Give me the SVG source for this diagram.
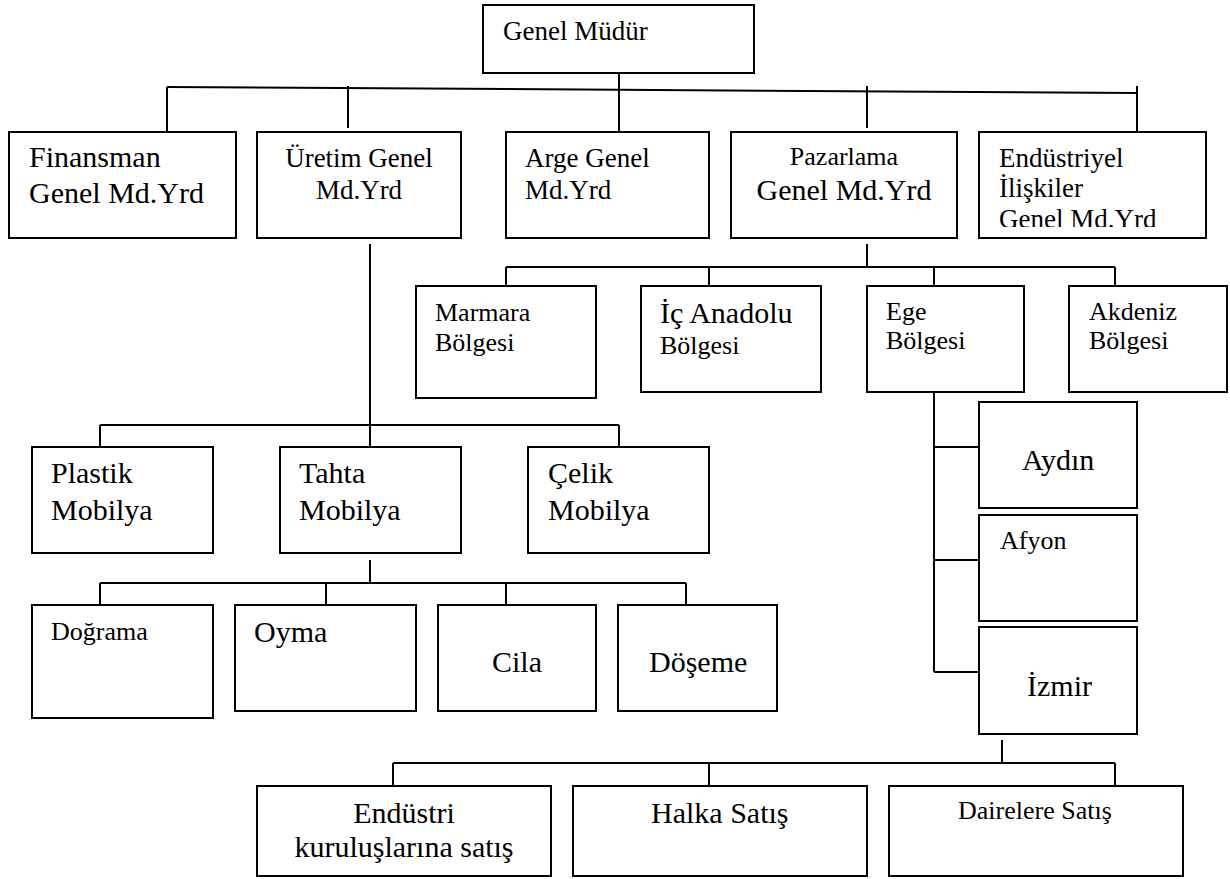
<svg xmlns="http://www.w3.org/2000/svg" width="1230" height="879" viewBox="0 0 1230 879">
  <style>
    .box { fill: #fff; stroke: #000; stroke-width: 2; }
    .wire { fill: none; stroke: #000; stroke-width: 2; }
    text { font-family: "Liberation Serif", "Times New Roman", serif; fill: #000; }
    .s26 { font-size: 26px; }
    .s27 { font-size: 27px; }
    .s30 { font-size: 30px; }
    .mid { text-anchor: middle; }
  </style>
  <defs>
    <clipPath id="endClip">
      <rect x="980" y="133" width="225" height="94"/>
    </clipPath>
  </defs>
  <rect width="1230" height="879" fill="#fff"/>

  <!-- connectors -->
  <g id="connectors" class="wire">
    <!-- top level -->
    <line x1="619" y1="73" x2="619" y2="132"/>
    <line x1="167" y1="87" x2="1137" y2="93"/>
    <line x1="167" y1="87" x2="167" y2="132"/>
    <line x1="348" y1="86" x2="348" y2="128"/>
    <line x1="867" y1="86" x2="867" y2="128"/>
    <line x1="1137" y1="86" x2="1137" y2="132"/>
    <!-- production branch -->
    <line x1="370" y1="244" x2="370" y2="447"/>
    <line x1="100" y1="425" x2="619" y2="425"/>
    <line x1="100" y1="425" x2="100" y2="447"/>
    <line x1="619" y1="425" x2="619" y2="447"/>
    <line x1="370" y1="560" x2="370" y2="583"/>
    <line x1="100" y1="583" x2="686" y2="583"/>
    <line x1="100" y1="583" x2="100" y2="605"/>
    <line x1="326" y1="583" x2="326" y2="605"/>
    <line x1="506" y1="583" x2="506" y2="605"/>
    <line x1="686" y1="583" x2="686" y2="605"/>
    <!-- marketing branch -->
    <line x1="867" y1="244" x2="867" y2="267"/>
    <line x1="506" y1="267" x2="1115" y2="267"/>
    <line x1="506" y1="267" x2="506" y2="286"/>
    <line x1="709" y1="267" x2="709" y2="286"/>
    <line x1="934" y1="267" x2="934" y2="290"/>
    <line x1="1115" y1="267" x2="1115" y2="286"/>
    <!-- Ege cities -->
    <line x1="934" y1="389" x2="934" y2="672"/>
    <line x1="934" y1="447" x2="979" y2="447"/>
    <line x1="934" y1="560" x2="979" y2="560"/>
    <line x1="934" y1="672" x2="979" y2="672"/>
    <!-- İzmir sales -->
    <line x1="1002" y1="740" x2="1002" y2="763"/>
    <line x1="393" y1="763" x2="1115" y2="763"/>
    <line x1="393" y1="763" x2="393" y2="786"/>
    <line x1="709" y1="763" x2="709" y2="786"/>
    <line x1="1115" y1="763" x2="1115" y2="786"/>
  </g>

  <g id="genel-mudur">
    <rect class="box" x="483" y="5" width="271" height="68"/>
    <text class="s27" x="503" y="40">Genel Müdür</text>
  </g>

  <g id="finansman">
    <rect class="box" x="9" y="132" width="227" height="106"/>
    <text class="s30" x="29" y="167">Finansman</text>
    <text class="s30" x="29" y="203">Genel Md.Yrd</text>
  </g>

  <g id="uretim">
    <rect class="box" x="257" y="132" width="204" height="106"/>
    <text class="s27 mid" x="359" y="167">Üretim Genel</text>
    <text class="s27 mid" x="359" y="199">Md.Yrd</text>
  </g>

  <g id="arge">
    <rect class="box" x="506" y="132" width="203" height="106"/>
    <text class="s27" x="525" y="167">Arge Genel</text>
    <text class="s27" x="525" y="199">Md.Yrd</text>
  </g>

  <g id="pazarlama">
    <rect class="box" x="731" y="132" width="226" height="106"/>
    <text class="s26 mid" x="844" y="165">Pazarlama</text>
    <text class="s30 mid" x="844" y="200">Genel Md.Yrd</text>
  </g>

  <g id="endustriyel">
    <rect class="box" x="979" y="132" width="227" height="106"/>
    <g clip-path="url(#endClip)">
      <text class="s27" x="999" y="167">Endüstriyel</text>
      <text class="s27" x="999" y="197">İlişkiler</text>
      <text class="s27" x="999" y="228">Genel Md.Yrd</text>
    </g>
  </g>

  <g id="marmara">
    <rect class="box" x="416" y="286" width="180" height="112"/>
    <text class="s26" x="435" y="321">Marmara</text>
    <text class="s26" x="435" y="351">Bölgesi</text>
  </g>

  <g id="ic-anadolu">
    <rect class="box" x="641" y="286" width="180" height="106"/>
    <text class="s30" x="660" y="323">İç Anadolu</text>
    <text class="s26" x="660" y="354">Bölgesi</text>
  </g>

  <g id="ege">
    <rect class="box" x="867" y="286" width="157" height="106"/>
    <text class="s26" x="886" y="320">Ege</text>
    <text class="s26" x="886" y="349">Bölgesi</text>
  </g>

  <g id="akdeniz">
    <rect class="box" x="1069" y="286" width="158" height="106"/>
    <text class="s26" x="1089" y="320">Akdeniz</text>
    <text class="s26" x="1089" y="349">Bölgesi</text>
  </g>

  <g id="aydin">
    <rect class="box" x="979" y="402" width="158" height="106"/>
    <text class="s30" x="1022" y="470">Aydın</text>
  </g>

  <g id="afyon">
    <rect class="box" x="979" y="515" width="158" height="106"/>
    <text class="s26" x="1000" y="549">Afyon</text>
  </g>

  <g id="izmir">
    <rect class="box" x="979" y="627" width="158" height="107"/>
    <text class="s30" x="1027" y="696">İzmir</text>
  </g>

  <g id="plastik">
    <rect class="box" x="32" y="447" width="181" height="106"/>
    <text class="s30" x="51" y="483">Plastik</text>
    <text class="s30" x="51" y="520">Mobilya</text>
  </g>

  <g id="tahta">
    <rect class="box" x="280" y="447" width="181" height="106"/>
    <text class="s30" x="299" y="483">Tahta</text>
    <text class="s30" x="299" y="520">Mobilya</text>
  </g>

  <g id="celik">
    <rect class="box" x="528" y="447" width="181" height="106"/>
    <text class="s30" x="548" y="483">Çelik</text>
    <text class="s30" x="548" y="520">Mobilya</text>
  </g>

  <g id="dograma">
    <rect class="box" x="32" y="605" width="181" height="113"/>
    <text class="s26" x="51" y="640">Doğrama</text>
  </g>

  <g id="oyma">
    <rect class="box" x="235" y="605" width="181" height="106"/>
    <text class="s30" x="254" y="642">Oyma</text>
  </g>

  <g id="cila">
    <rect class="box" x="438" y="605" width="158" height="106"/>
    <text class="s30" x="492" y="672">Cila</text>
  </g>

  <g id="doseme">
    <rect class="box" x="618" y="605" width="159" height="106"/>
    <text class="s30" x="649" y="672">Döşeme</text>
  </g>

  <g id="endustri-satis">
    <rect class="box" x="257" y="786" width="294" height="90"/>
    <text class="s30 mid" x="404" y="823">Endüstri</text>
    <text class="s30 mid" x="404" y="857">kuruluşlarına satış</text>
  </g>

  <g id="halka-satis">
    <rect class="box" x="573" y="786" width="294" height="90"/>
    <text class="s30" x="651" y="823">Halka Satış</text>
  </g>

  <g id="dairelere-satis">
    <rect class="box" x="889" y="786" width="294" height="90"/>
    <text class="s26" x="958" y="819">Dairelere Satış</text>
  </g>
</svg>
